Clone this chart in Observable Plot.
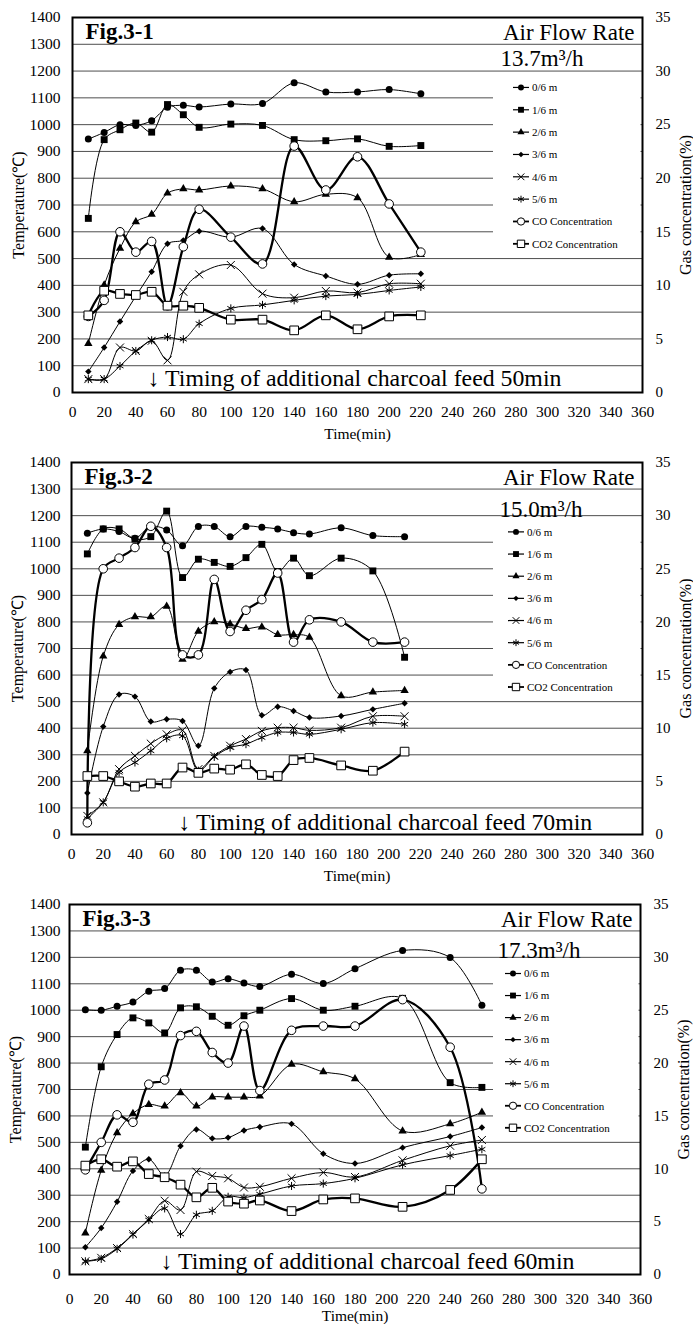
<!DOCTYPE html>
<html>
<head>
<meta charset="utf-8">
<script src="https://cdn.jsdelivr.net/npm/d3@7"></script>
<script src="https://cdn.jsdelivr.net/npm/@observablehq/plot@0.6"></script>
<style>
  html, body { margin: 0; padding: 0; background: #fff; }
  #wrap { width: 693px; }
  .panel { position: relative; width: 693px; }
  .panel svg { display: block; }
  .panel svg.legend { position: absolute; left: 0; top: 0; pointer-events: none; }
</style>
</head>
<body>
<div id="wrap"></div>
<script>
// ---------------- DATA ----------------
const seriesNames = ["0/6 m", "1/6 m", "2/6 m", "3/6 m", "4/6 m", "5/6 m", "CO Concentration", "CO2 Concentration"];
const xTicks = [0, 20, 40, 60, 80, 100, 120, 140, 160, 180, 200, 220, 240, 260, 280, 300, 320, 340, 360];
const yTicks = [0, 100, 200, 300, 400, 500, 600, 700, 800, 900, 1000, 1100, 1200, 1300, 1400];
const gasTicks = [0, 5, 10, 15, 20, 25, 30, 35];

// Fig.3-1  (13.7 m3/h, feed 50 min)
const fig1Time = [10, 20, 30, 40, 50, 60, 70, 80, 100, 120, 140, 160, 180, 200, 220];
const fig1T0 = [946, 971, 1000, 997, 1015, 1065, 1072, 1066, 1077, 1079, 1156, 1122, 1122, 1131, 1115];
const fig1T1 = [650, 944, 981, 1006, 972, 1075, 1037, 990, 1002, 997, 944, 940, 947, 919, 922];
const fig1T2 = [183, 401, 538, 637, 665, 744, 760, 756, 771, 760, 712, 740, 727, 505, 515];
const fig1T3 = [78, 168, 265, 360, 451, 555, 568, 602, 580, 612, 478, 435, 404, 438, 443];
const fig1T4 = [50, 50, 168, 155, 193, 120, 376, 441, 476, 369, 354, 379, 373, 406, 406];
const fig1T5 = [50, 50, 99, 155, 195, 207, 199, 257, 314, 327, 344, 360, 366, 381, 394];
const fig1CO = [7.1, 8.6, 15.0, 13.1, 14.1, 8.1, 13.6, 17.1, 14.5, 12.0, 23.0, 18.9, 22.0, 17.6, 13.1];
const fig1CO2 = [7.2, 9.5, 9.2, 9.1, 9.4, 8.1, 8.1, 7.9, 6.8, 6.8, 5.8, 7.2, 5.9, 7.1, 7.2];

// Fig.3-2  (15.0 m3/h, feed 70 min)
const fig2Time = [10, 20, 30, 40, 50, 60, 70, 80, 90, 100, 110, 120, 130, 140, 150, 170, 190, 210];
const fig2T0 = [1134, 1150, 1140, 1115, 1159, 1146, 1087, 1159, 1159, 1121, 1159, 1156, 1150, 1136, 1131, 1154, 1125, 1121];
const fig2T1 = [1056, 1150, 1150, 1112, 1121, 1217, 967, 1036, 1024, 1009, 1042, 1092, 990, 1040, 974, 1040, 992, 667];
const fig2T2 = [315, 671, 790, 819, 819, 859, 659, 765, 800, 792, 775, 781, 752, 752, 742, 522, 536, 542];
const fig2T3 = [156, 406, 527, 519, 425, 434, 427, 334, 550, 612, 619, 449, 481, 465, 440, 446, 471, 494];
const fig2T4 = [70, 121, 246, 296, 342, 377, 392, 246, 296, 334, 359, 390, 402, 402, 392, 402, 445, 445];
const fig2T5 = [60, 121, 234, 271, 315, 362, 371, 240, 292, 327, 340, 365, 384, 384, 377, 396, 421, 415];
const fig2CO = [1.1, 25.0, 26.0, 27.0, 29.0, 27.0, 16.9, 16.9, 24.0, 19.1, 21.1, 22.1, 24.6, 18.1, 20.2, 20.0, 18.1, 18.1];
const fig2CO2 = [5.5, 5.5, 5.0, 4.5, 4.8, 4.8, 6.3, 5.8, 6.2, 6.1, 6.6, 5.6, 5.5, 7.0, 7.2, 6.5, 6.0, 7.8];

// Fig.3-3  (17.3 m3/h, feed 60 min)
const fig3Time = [10, 20, 30, 40, 50, 60, 70, 80, 90, 100, 110, 120, 140, 160, 180, 210, 240, 260];
const fig3T0 = [1002, 1000, 1015, 1031, 1072, 1082, 1151, 1151, 1107, 1119, 1103, 1090, 1136, 1101, 1157, 1226, 1199, 1019];
const fig3T1 = [482, 786, 908, 971, 952, 914, 1009, 1013, 977, 943, 979, 1000, 1044, 1000, 1015, 1045, 726, 708];
const fig3T2 = [157, 394, 536, 609, 643, 637, 687, 637, 671, 671, 671, 675, 795, 767, 740, 543, 570, 614];
const fig3T3 = [103, 176, 275, 392, 436, 375, 486, 549, 515, 518, 545, 558, 570, 457, 420, 480, 522, 556];
const fig3T4 = [50, 63, 100, 153, 210, 279, 244, 389, 373, 364, 329, 332, 364, 386, 369, 432, 487, 509];
const fig3T5 = [50, 59, 97, 151, 206, 250, 153, 226, 241, 294, 291, 304, 335, 344, 364, 415, 450, 474];
const fig3CO = [9.9, 12.5, 15.1, 14.4, 18.0, 18.4, 22.6, 23.0, 21.0, 20.0, 23.5, 17.4, 23.1, 23.5, 23.5, 26.0, 21.5, 8.1];
const fig3CO2 = [10.3, 10.9, 10.2, 10.7, 9.5, 9.2, 8.5, 7.3, 8.2, 6.9, 6.7, 7.0, 6.0, 7.1, 7.2, 6.4, 8.0, 10.9];

// ---------------- STYLE / LAYOUT ----------------
const GAS_K = 40; // 35 % on the right axis == 1400 °C on the left axis
const FONT = "'Liberation Serif', 'Times New Roman', serif";

const styles = {
  "0/6 m": {symbol: "circle", fill: "black", stroke: "none", r: 3.5},
  "1/6 m": {symbol: "square", fill: "black", stroke: "none", r: 3.9},
  "2/6 m": {symbol: "triangle", fill: "black", stroke: "none", r: 3.1},
  "3/6 m": {symbol: "diamond2", fill: "black", stroke: "none", r: 2.9},
  "4/6 m": {symbol: "times", fill: "none", stroke: "black", r: 3.7},
  "5/6 m": {symbol: "asterisk", fill: "none", stroke: "black", r: 3.8},
  "CO Concentration": {symbol: "circle", fill: "white", stroke: "black", r: 4.3},
  "CO2 Concentration": {symbol: "square", fill: "white", stroke: "black", r: 4.9}
};
const d3Sym = {
  circle: d3.symbolCircle, square: d3.symbolSquare, triangle: d3.symbolTriangle,
  diamond2: d3.symbolDiamond2, times: d3.symbolTimes, asterisk: d3.symbolAsterisk
};

const panels = [
  {fig: "Fig.3-1", flow: "13.7m³/h", feed: 50, time: fig1Time,
   temps: [fig1T0, fig1T1, fig1T2, fig1T3, fig1T4, fig1T5], gas: [fig1CO, fig1CO2],
   height: 445, mt: 17, mb: 53, ml: 72, mr: 51, xPad: 13, yPad: 12,
   flowDy: 41, feedDy: -14, timeDy: 42, legX: 521},
  {fig: "Fig.3-2", flow: "15.0m³/h", feed: 70, time: fig2Time,
   temps: [fig2T0, fig2T1, fig2T2, fig2T3, fig2T4, fig2T5], gas: [fig2CO, fig2CO2],
   height: 445, mt: 17, mb: 56, ml: 71, mr: 51, xPad: 13, yPad: 11,
   flowDy: 47, feedDy: -12, timeDy: 42, legX: 516},
  {fig: "Fig.3-3", flow: "17.3m³/h", feed: 60, time: fig3Time,
   temps: [fig3T0, fig3T1, fig3T2, fig3T3, fig3T4, fig3T5], gas: [fig3CO, fig3CO2],
   height: 434, mt: 14, mb: 50, ml: 69, mr: 53, xPad: 18, yPad: 9,
   flowDy: 46, feedDy: -13, timeDy: 42, legX: 513}
];

function makePanel(cfg) {
  const tempRows = [];
  cfg.temps.forEach((arr, i) => arr.forEach((v, j) => tempRows.push({t: cfg.time[j], y: v, s: seriesNames[i]})));
  const gasRows = [];
  cfg.gas.forEach((arr, i) => arr.forEach((p, j) => gasRows.push({t: cfg.time[j], y: p * GAS_K, s: seriesNames[6 + i]})));
  const allRows = tempRows.concat(gasRows);

  const dotMarks = seriesNames.map(name => {
    const st = styles[name];
    return Plot.dot(allRows.filter(d => d.s === name), {
      x: "t", y: "y", symbol: st.symbol, r: st.r, fill: st.fill, stroke: st.stroke,
      strokeWidth: 1
    });
  });

  const chart = Plot.plot({
    width: 693, height: cfg.height,
    marginTop: cfg.mt, marginBottom: cfg.mb, marginLeft: cfg.ml, marginRight: cfg.mr,
    style: {fontFamily: FONT, fontSize: "15px", color: "black", background: "white"},
    x: {domain: [0, 360]},
    y: {domain: [0, 1400]},
    marks: [
      Plot.ruleY(yTicks.filter(v => v > 0 && v < 1400), {stroke: "#3a3a3a", strokeWidth: 0.9}),
      Plot.axisX({ticks: xTicks, tickSize: 0, tickPadding: cfg.xPad, fontSize: 15.5, label: null, tickFormat: d => String(d)}),
      Plot.axisY({anchor: "left", ticks: yTicks, tickSize: 0, tickPadding: cfg.yPad, fontSize: 15.5, label: null, tickFormat: d => String(d)}),
      Plot.axisY({anchor: "right", ticks: gasTicks.map(g => g * GAS_K), tickSize: 0, tickPadding: 13, fontSize: 15, label: null, tickFormat: d => String(d / GAS_K)}),
      Plot.line(tempRows, {x: "t", y: "y", z: "s", stroke: "black", strokeWidth: 1, curve: "catmull-rom"}),
      Plot.line(gasRows, {x: "t", y: "y", z: "s", stroke: "black", strokeWidth: 2.3, curve: "catmull-rom"}),
      ...dotMarks,
      Plot.frame({stroke: "black", strokeWidth: 2}),
      Plot.text([cfg.fig], {frameAnchor: "top-left", dx: 13, dy: 14, lineAnchor: "middle", textAnchor: "start", fontSize: 23, fontWeight: "bold"}),
      Plot.text(["Air Flow Rate"], {frameAnchor: "top-right", dx: -8, dy: 15, lineAnchor: "middle", textAnchor: "end", fontSize: 23}),
      Plot.text([cfg.flow], {frameAnchor: "top-left", dx: 428, dy: cfg.flowDy, lineAnchor: "middle", textAnchor: "start", fontSize: 23}),
      Plot.text([cfg.feed], {x: d => d, frameAnchor: "bottom", dx: -4, dy: cfg.feedDy, lineAnchor: "middle", textAnchor: "start", fontSize: 23.8,
        text: d => `↓ Timing of additional charcoal feed ${d}min`}),
      Plot.text(["Time(min)"], {frameAnchor: "bottom", dy: cfg.timeDy, lineAnchor: "middle", fontSize: 15.5}),
      Plot.text(["Temperature(℃)"], {frameAnchor: "left", dx: -54, rotate: -90, lineAnchor: "middle", textAnchor: "middle", fontSize: 16}),
      Plot.text(["Gas concentration(%)"], {frameAnchor: "right", dx: 43, rotate: -90, lineAnchor: "middle", textAnchor: "middle", fontSize: 16})
    ]
  });

  const holder = document.createElement("div");
  holder.className = "panel";
  holder.style.height = cfg.height + "px";
  holder.appendChild(chart);

  // legend overlay: white box over the grid, swatches + labels
  const innerH = cfg.height - cfg.mt - cfg.mb;
  const yPx = v => cfg.mt + (1 - v / 1400) * innerH;
  const frameR = 693 - cfg.mr;
  const leg = d3.select(holder).append("svg")
    .attr("class", "legend")
    .attr("width", 693).attr("height", cfg.height)
    .attr("viewBox", `0 0 693 ${cfg.height}`);
  leg.append("rect")
    .attr("x", 493).attr("y", yPx(1190))
    .attr("width", frameR - 1.5 - 493).attr("height", yPx(535) - yPx(1190))
    .attr("fill", "#ffffff").style("fill", "#ffffff");
  seriesNames.forEach((name, i) => {
    const st = styles[name];
    const yy = yPx(1137 - i * 83.4);
    const gas = i >= 6;
    leg.append("line").attr("x1", cfg.legX - 8).attr("x2", cfg.legX + 8)
      .attr("y1", yy).attr("y2", yy)
      .style("stroke", "#000").style("stroke-width", gas ? 1.8 : 1.2);
    const size = Math.PI * Math.pow(st.r * 0.85, 2);
    leg.append("path").attr("transform", `translate(${cfg.legX},${yy})`)
      .attr("d", d3.symbol(d3Sym[st.symbol], size)())
      .style("fill", st.fill).style("stroke", st.stroke).style("stroke-width", 1);
    leg.append("text").attr("x", cfg.legX + 11).attr("y", yy).attr("dy", "0.35em")
      .style("font-family", FONT).style("font-size", "11px")
      .style("text-anchor", "start").style("fill", "#000").text(name);
  });
  return holder;
}

const wrap = document.getElementById("wrap");
panels.forEach(p => wrap.appendChild(makePanel(p)));
</script>
</body>
</html>
